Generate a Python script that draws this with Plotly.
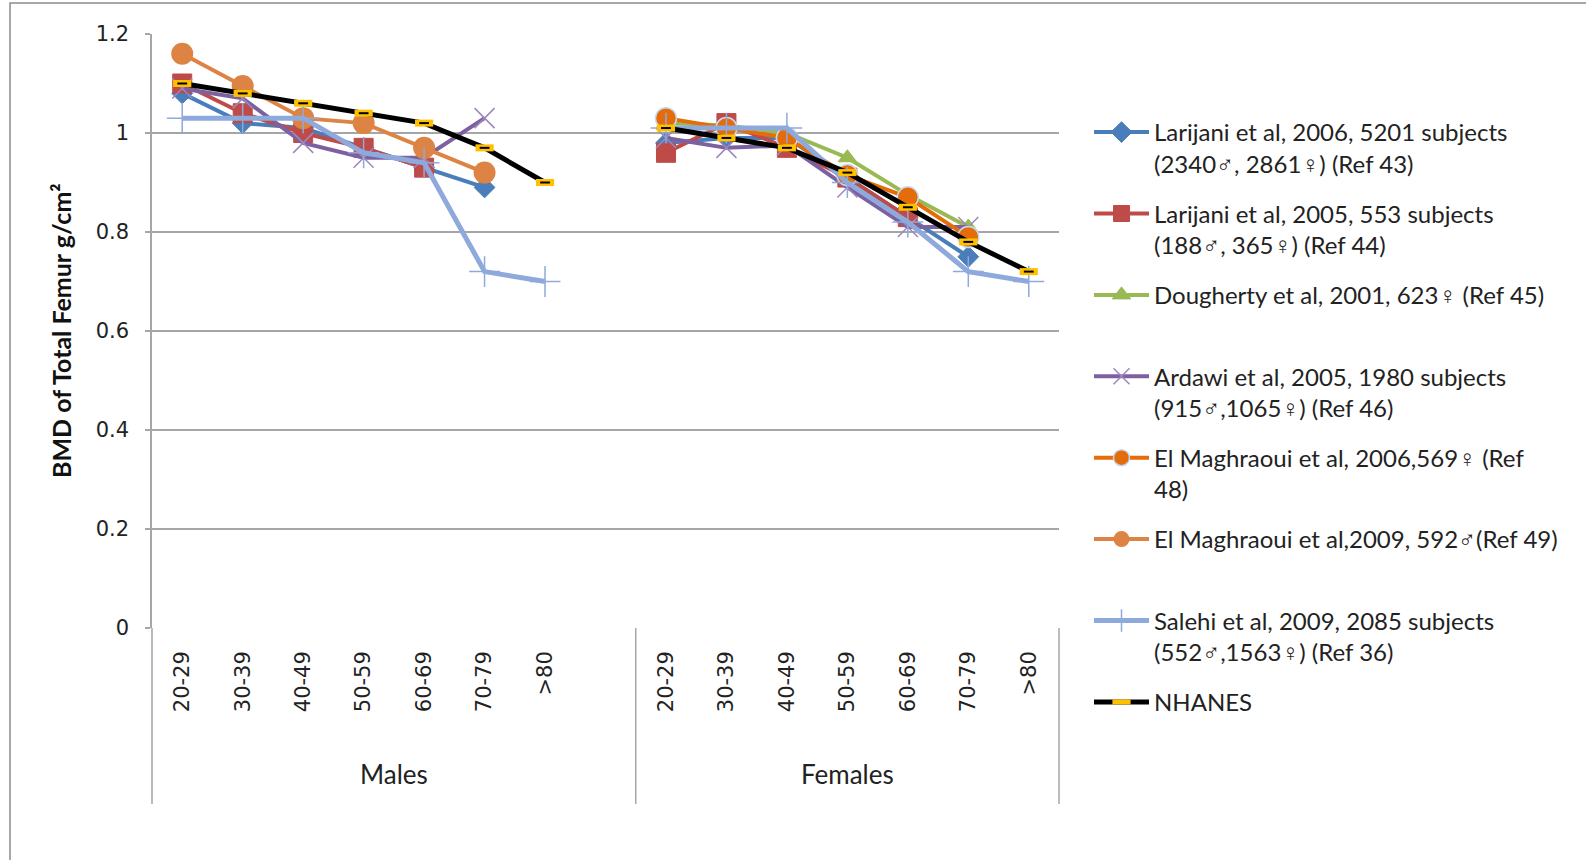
import plotly.graph_objects as go

# ---- data ----
age_groups = ["20-29", "30-39", "40-49", "50-59", "60-69", "70-79", ">80"]
sexes = ["Males", "Females"]

# values per age group; None = not reported
larijani2006_m = [1.08, 1.02, 1.01, 0.97, 0.93, 0.89, None]
larijani2006_f = [0.98, 0.99, 0.99, 0.91, 0.83, 0.75, None]
larijani2005_m = [1.10, 1.04, 1.00, 0.97, 0.93, None, None]
larijani2005_f = [0.96, 1.02, 0.97, 0.91, 0.83, None, None]
dougherty_m = [None] * 7
dougherty_f = [1.02, 1.015, 1.00, 0.95, 0.875, 0.81, None]
ardawi_m = [1.09, 1.07, 0.98, 0.95, 0.95, 1.03, None]
ardawi_f = [0.99, 0.97, 0.975, 0.89, 0.81, 0.81, None]
elmag2006_m = [None] * 7
elmag2006_f = [1.03, 1.01, 0.99, 0.915, 0.87, 0.79, None]
elmag2009_m = [1.16, 1.095, 1.03, 1.02, 0.97, 0.92, None]
elmag2009_f = [None] * 7
salehi_m = [1.03, 1.03, 1.03, 0.96, 0.94, 0.72, 0.70]
salehi_f = [1.01, 1.01, 1.01, 0.90, 0.82, 0.72, 0.70]
nhanes_m = [1.10, 1.08, 1.06, 1.04, 1.02, 0.97, 0.90]
nhanes_f = [1.01, 0.99, 0.97, 0.92, 0.85, 0.78, 0.72]

series_names = [
    "Larijani et al, 2006, 5201 subjects<br>(2340♂, 2861♀) (Ref 43)",
    "Larijani et al, 2005, 553 subjects<br>(188♂, 365♀) (Ref 44)",
    "Dougherty et al, 2001, 623♀ (Ref 45)<br> ",
    "Ardawi et al, 2005, 1980 subjects<br>(915♂,1065♀) (Ref 46)",
    "El Maghraoui et al, 2006,569♀ (Ref<br>48)",
    "El Maghraoui et al,2009, 592♂(Ref 49)<br> ",
    "Salehi et al, 2009, 2085 subjects<br>(552♂,1563♀) (Ref 36)",
    "NHANES<br> ",
]
series_m = [larijani2006_m, larijani2005_m, dougherty_m, ardawi_m,
            elmag2006_m, elmag2009_m, salehi_m, nhanes_m]
series_f = [larijani2006_f, larijani2005_f, dougherty_f, ardawi_f,
            elmag2006_f, elmag2009_f, salehi_f, nhanes_f]

y_ticks = [0, 0.2, 0.4, 0.6, 0.8, 1.0, 1.2]

# ---- styles ----
styles = [
    dict(color="#4A7EBB", symbol="diamond", size=16, lw=1, lc="#4A7EBB"),
    dict(color="#BE4B48", symbol="square", size=19, lw=1, lc="#BE4B48"),
    dict(color="#98B954", symbol="triangle-up", size=16, lw=1, lc="#98B954"),
    dict(color="#7D60A0", symbol="x-thin", size=20, lw=1.5, lc="#9C88BC"),
    dict(color="#E46C0A", symbol="circle", size=21, lw=1.5, lc="#C6D9F1"),
    dict(color="#DD8444", symbol="circle", size=22, lw=0, lc="#DD8444"),
    dict(color="#8EA9DB", symbol="cross-thin", size=22, lw=1.5, lc="#8EA9DB"),
    dict(color="#000000", symbol="line-ew", size=13, lw=7, lc="#FFC000"),
]

n_m = len(age_groups)
x_m = list(range(n_m))
x_f = [n_m + 1 + i for i in range(len(age_groups))]
x_all = x_m + [n_m] + x_f

fig = go.Figure()
for i, name in enumerate(series_names):
    st = styles[i]
    y_all = series_m[i] + [None] + series_f[i]
    is_nh = (i == len(series_names) - 1)
    marker = dict(symbol=st["symbol"], size=st["size"],
                  line=dict(width=st["lw"], color=st["lc"]))
    if st["symbol"] in ("x-thin", "cross-thin"):
        marker["color"] = st["lc"]
    elif is_nh:
        marker["color"] = "#FFC000"
    else:
        marker["color"] = st["color"]
    fig.add_trace(go.Scatter(
        x=x_all, y=y_all, name=name, mode="lines+markers",
        line=dict(color=st["color"], width=5 if (is_nh or i == 6) else 4),
        marker=marker, connectgaps=False, legendgroup=str(i),
    ))
    if is_nh:
        fig.add_trace(go.Scatter(
            x=x_all, y=y_all, mode="markers", showlegend=False,
            marker=dict(symbol="line-ew", size=7, line=dict(width=2, color="#000000")),
            hoverinfo="skip",
        ))

# ---- layout ----
W, H = 1586, 860
L, R, T, B = 152, 1059, 34, 628
pw, ph = R - L, B - T

def px_x(px):
    return (px - L) / pw

def px_y(py):
    return (B - py) / ph

CAL = "Lato, Open Sans, sans-serif"

fig.update_layout(
    width=W, height=H,
    margin=dict(l=L, r=W - R, t=T, b=H - B, autoexpand=False),
    paper_bgcolor="white", plot_bgcolor="white",
    showlegend=True,
    legend=dict(
        x=px_x(1089), y=px_y(110), xanchor="left", yanchor="top",
        font=dict(family=CAL, size=24, color="#222"),
        valign="top", tracegroupgap=16, itemwidth=55,
        bgcolor="rgba(0,0,0,0)", maxheight=780,
    ),
    xaxis=dict(
        range=[-0.5, len(x_all) - 0.5],
        tickmode="array",
        tickvals=x_m + x_f,
        ticktext=age_groups + age_groups,
        tickangle=-90,
        tickfont=dict(family="DejaVu Sans", size=21, color="#222"),
        showgrid=False, zeroline=False, showline=False, ticks="",
        ticklabelstandoff=18, automargin=False,
    ),
    yaxis=dict(
        range=[0, 1.2],
        tickmode="array", tickvals=y_ticks,
        ticktext=[("%g" % v) for v in y_ticks],
        tickfont=dict(family="DejaVu Sans", size=21, color="#222"),
        showgrid=True, gridcolor="#A6A6A6", gridwidth=1.5,
        zeroline=False, showline=True, linecolor="#A6A6A6", linewidth=1.5,
        ticks="outside", ticklen=5, tickcolor="#A6A6A6", tickwidth=1.5,
        ticklabelstandoff=12, automargin=False,
    ),
)

# Y axis title
fig.add_annotation(
    text="BMD of Total Femur g/cm²", textangle=-90,
    xref="paper", yref="paper", x=px_x(61), y=px_y(331),
    xanchor="center", yanchor="middle", showarrow=False,
    font=dict(family=CAL, size=25, color="#111", weight="bold"),
)

# group labels
fig.add_annotation(text=sexes[0], xref="x", yref="paper",
                   x=(x_m[0] + n_m) / 2, y=px_y(774), yanchor="middle",
                   showarrow=False, font=dict(family=CAL, size=26, color="#222"))
fig.add_annotation(text=sexes[1], xref="x", yref="paper",
                   x=(x_f[0] + x_f[-1]) / 2, y=px_y(774), yanchor="middle",
                   showarrow=False, font=dict(family=CAL, size=26, color="#222"))

# category axis box lines
lc = dict(color="#A6A6A6", width=1.5)
ybot = px_y(804)
fig.add_shape(type="line", xref="paper", yref="paper", x0=0, x1=0, y0=ybot, y1=0, line=lc)
fig.add_shape(type="line", xref="paper", yref="paper", x0=1, x1=1, y0=ybot, y1=0, line=lc)
fig.add_shape(type="line", xref="x", yref="paper", x0=n_m + 0.5, x1=n_m + 0.5, y0=ybot, y1=0, line=lc)

# outer chart border
fig.add_shape(type="rect", xref="paper", yref="paper",
              x0=px_x(10), x1=px_x(1700), y0=px_y(900), y1=px_y(3),
              line=dict(color="#8C8C8C", width=1.5), layer="below")

fig.write_html("out.html", config={"displayModeBar": False},
               post_script="document.body.style.margin='0';")
